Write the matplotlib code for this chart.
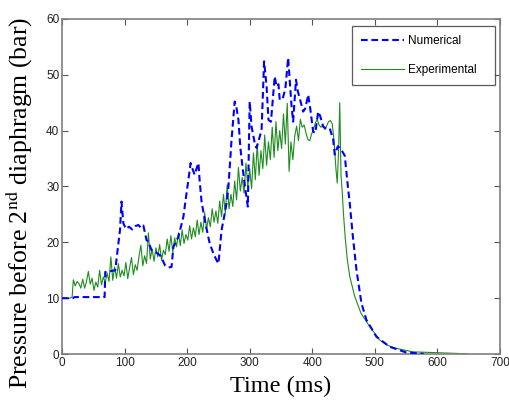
import matplotlib
matplotlib.use("Agg")
import matplotlib.pyplot as plt

# Numerical (blue dashed)
num_t = [0, 17, 20, 68, 69, 75, 85, 90, 92.6, 95, 98, 102, 107, 112, 117, 122, 126, 130,
         135, 138, 143, 150, 156.5, 160, 164.5, 170, 175, 178, 186, 194, 198, 202, 205.5,
         209, 212, 215, 218, 220, 223, 229, 236, 242, 247, 250, 255, 259, 263, 266, 271,
         276, 279, 282, 285, 289, 293, 297, 300, 303, 308, 311, 315, 319, 323, 327, 330,
         334, 340, 343, 346, 348, 353, 357, 361.5, 364, 367, 369.5, 374, 377, 380, 385.5,
         389, 393.5, 397, 401.5, 405, 409.5, 413, 417.5, 422, 428, 433.5, 436, 441, 447,
         452, 457, 460, 465, 470.8, 478.7, 486.7, 502.7, 524, 550, 578]
num_p = [10, 10.0, 10.2, 10.2, 14.7, 14.8, 15.0, 19.8, 22.2, 27.3, 23.4, 22.4, 22.8, 22.3,
         22.9, 23.1, 22.6, 23.0, 20.4, 20.1, 18.6, 18.2, 17.7, 17.0, 15.9, 15.5, 15.6, 19.2,
         21.0, 24.6, 28.0, 31.2, 34.2, 33.0, 32.1, 33.2, 34.2, 31.0, 27.3, 23.5, 19.8, 18.0,
         16.8, 16.2, 22.2, 24.5, 27.0, 30.0, 38.4, 45.2, 44.0, 41.9, 37.0, 33.0, 29.5, 26.4,
         45.2, 40.7, 37.8, 36.9, 38.5, 40.1, 52.4, 47.9, 41.9, 41.6, 49.7, 47.9, 48.3, 45.5,
         45.8, 47.5, 53.0, 49.0, 44.3, 41.6, 49.1, 47.0, 45.8, 43.4, 44.0, 46.4, 43.8, 39.8,
         39.6, 43.4, 42.5, 40.7, 40.4, 40.4, 38.4, 35.7, 37.2, 36.5, 35.5, 30.0, 27.0, 21.0,
         15.0, 9.1, 6.1, 3.1, 1.3, 0.3, 0.05]

# Experimental (green)
exp_t = [0, 12, 16, 18, 21, 24, 27, 30, 33, 36, 39, 42, 45, 48, 51, 54, 57, 60, 63, 66, 69,
         72, 75, 78, 81, 84, 87, 90, 93, 96, 99, 102, 105, 108, 111, 114, 117, 120, 123, 126,
         129, 132, 135, 138, 141, 144, 147, 150, 153, 156, 159, 162, 165, 168, 171, 174, 177,
         180, 183, 186, 189, 192, 195, 198, 201, 204, 207, 210, 213, 216, 219, 222, 225, 228,
         231, 234, 237, 240, 243, 246, 249, 252, 255, 258, 261, 264, 267, 270, 273, 276, 279,
         282, 285, 288, 291, 294, 297, 300, 303, 306, 309, 312, 315, 318, 321, 324, 327, 330,
         333, 336, 339, 342, 345, 348, 351, 354, 357, 360, 363, 366, 369, 372, 375, 378, 381,
         384, 387, 390, 393, 396, 399, 402, 405, 408, 411, 414, 417, 420, 423, 426, 429, 432,
         435, 438, 440, 442, 444, 446, 448, 450, 453, 456, 460, 468, 478, 492, 508, 520, 535,
         561, 598, 625, 648]
exp_p = [10, 10, 10.2, 13.3, 12.2, 13.0, 12.6, 11.8, 13.4, 11.8, 13.0, 14.8, 12.5, 13.6, 11.4,
         12.9, 12.0, 15.0, 12.4, 13.8, 12.8, 14.5, 13.0, 17.4, 13.2, 15.6, 13.6, 16.2, 13.8,
         15.0, 14.0, 16.4, 13.5, 15.5, 17.3, 14.2, 16.0, 15.0, 17.5, 19.5, 15.8, 17.6, 16.2,
         21.7, 17.0, 18.8, 16.6, 19.0, 17.4, 19.6, 16.8, 18.6, 17.8, 20.6, 18.4, 21.2, 18.2,
         20.8, 19.2, 21.7, 19.4, 22.2, 19.8, 21.4, 20.4, 23.0, 20.6, 22.6, 21.0, 24.0, 21.4,
         23.6, 21.8, 25.3, 22.4, 24.4, 22.8, 26.0, 23.6, 25.6, 23.4, 27.4, 24.6, 28.6, 25.2,
         30.3, 26.0, 28.6, 26.4, 31.0, 27.6, 33.4, 29.2, 31.6, 28.8, 34.2, 30.0, 33.2, 29.6,
         36.0, 31.2, 37.6, 32.0, 36.4, 33.2, 39.2, 33.8, 38.0, 34.8, 40.6, 35.2, 41.6, 36.4,
         40.0, 36.8, 43.0, 37.6, 44.9, 32.7, 38.0, 34.8, 39.0, 40.8, 38.2, 42.0, 40.6, 41.0,
         39.6, 38.4, 38.2, 39.4, 40.2, 41.4, 42.0, 41.0, 40.6, 41.0, 40.2, 40.8, 41.6, 41.8,
         41.2, 38.0, 33.0, 30.6, 36.0, 45.0, 32.0, 29.0, 25.0, 20.5, 17.0, 13.9, 10.3, 7.3,
         4.9, 2.5, 1.6, 1.0, 0.4, 0.25, 0.15, 0.05]

x_ticks = [0, 100, 200, 300, 400, 500, 600, 700]
y_ticks = [0, 10, 20, 30, 40, 50, 60]

plt.rcParams['mathtext.fontset'] = 'stix'

fig = plt.figure(figsize=(5.09, 4.01), dpi=100)
ax = fig.add_axes([0.122, 0.117, 0.860, 0.836])

ax.plot(num_t, num_p, color='#0000ff', linestyle='--', linewidth=1.5,
        dashes=(3.2, 1.8), label='Numerical', zorder=3)
ax.plot(exp_t, exp_p, color='#1e8c1e', linestyle='-', linewidth=0.8,
        label='Experimental', zorder=2)

ax.set_xlim(0, 700)
ax.set_ylim(0, 60)
ax.set_xticks(x_ticks)
ax.set_yticks(y_ticks)

tick_font = dict(family='Liberation Sans', size=8.5)
ax.set_xticklabels([str(v) for v in x_ticks], **tick_font)
ax.set_yticklabels([str(v) for v in y_ticks], **tick_font)
ax.tick_params(direction='in', top=True, right=True, length=4, width=0.8,
               color='#555555', labelcolor='#222222', pad=2)
for s in ax.spines.values():
    s.set_color('#7f7f7f')
    s.set_linewidth(1.2)

ax.set_xlabel('Time (ms)', family='Liberation Serif', size=17.5)
ax.xaxis.set_label_coords(0.5, -0.065, transform=ax.transAxes)
ax.xaxis.label.set_verticalalignment('top')
ax.set_ylabel('Pressure before 2$^{\\mathrm{nd}}$ diaphragm (bar)',
              family='Liberation Serif', size=18.5)
ax.yaxis.set_label_coords(-0.098, 0.45, transform=ax.transAxes)
ax.yaxis.label.set_verticalalignment('center')

leg = ax.legend(loc='upper left', bbox_to_anchor=(0.6628, 0.5, 0.3272, 0.478),
                mode='expand', prop=dict(family='Liberation Sans', size=8.5),
                frameon=True, fancybox=False, borderpad=0.78, labelspacing=1.38,
                handlelength=3.64, handletextpad=0.3, borderaxespad=0.0)
leg.get_frame().set_edgecolor('#333333')
leg.get_frame().set_linewidth(0.9)

fig.savefig('out.png', dpi=100)
